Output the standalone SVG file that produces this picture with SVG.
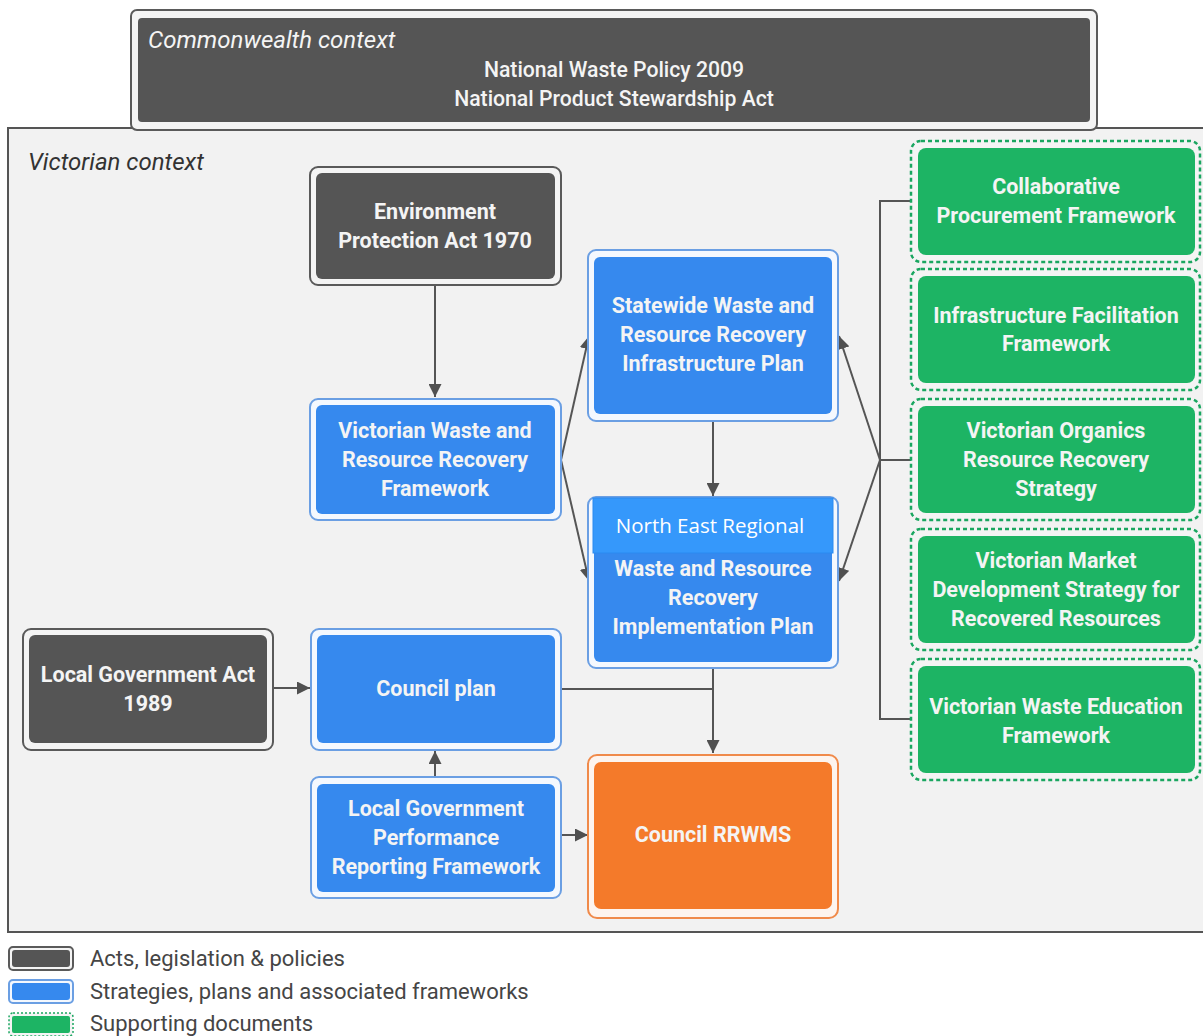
<svg xmlns="http://www.w3.org/2000/svg" width="1203" height="1036" viewBox="0 0 1203 1036">
<defs>
<marker id="ah" viewBox="0 0 10 10" refX="10" refY="5" markerWidth="13" markerHeight="13" markerUnits="userSpaceOnUse" orient="auto">
<path d="M0,0 L10,5 L0,10 z" fill="#505050"/>
</marker>
</defs>
<style>
.t{font-family:Roboto,"Liberation Sans",sans-serif;font-weight:bold;font-size:21.5px;fill:#f4f4f4;text-anchor:middle}
.ital{font-family:Roboto,"Liberation Sans",sans-serif;font-style:italic;font-size:24px}
.leg{font-family:Roboto,"Liberation Sans",sans-serif;font-size:22px;fill:#454545}
.do{fill:#f4f4f4;stroke:#5a5a5a;stroke-width:2}
.di{fill:#555555}
.bo{fill:#f4f8fe;stroke:#6b9fe3;stroke-width:2}
.bi{fill:#3689ee}
.go{fill:#f4f4f4;stroke:#1aa660;stroke-width:2.5;stroke-dasharray:4 3}
.gi{fill:#1db464}
.oo{fill:#fdf4ee;stroke:#f08a4a;stroke-width:2}
.oi{fill:#f47a2a}
.c{fill:none;stroke:#555;stroke-width:2}
.ca{fill:none;stroke:#555;stroke-width:2;marker-end:url(#ah)}
</style>
<rect width="1203" height="1036" fill="#ffffff"/>

<g id="victorian">
<rect x="8" y="128" width="1200" height="804" fill="#f2f2f2" stroke="#555" stroke-width="2"/>
<text class="ital" x="28" y="170" fill="#333">Victorian context</text>
</g>

<g id="commonwealth">
<rect x="131" y="10" width="966" height="120" rx="6" fill="#f4f4f4" stroke="#5a5a5a" stroke-width="2"/>
<rect x="138" y="18" width="952" height="104" rx="4" fill="#555555"/>
<text class="ital" x="148" y="48" fill="#f4f4f4">Commonwealth context</text>
<text class="t" x="614" y="77" style="font-weight:500;font-size:21.2px">National Waste Policy 2009</text>
<text class="t" x="614" y="106" style="font-weight:500;font-size:21.2px">National Product Stewardship Act</text>
</g>

<g id="connectors">
<line class="ca" x1="435" y1="285" x2="435" y2="397"/>
<line class="ca" x1="561" y1="460" x2="589" y2="336"/>
<line class="ca" x1="561" y1="460" x2="589" y2="581"/>
<line class="ca" x1="713" y1="421" x2="713" y2="496"/>
<polyline class="c" points="911,201 880,201 880,719 911,719"/>
<line class="c" x1="880" y1="460" x2="911" y2="460"/>
<line class="ca" x1="880" y1="460" x2="839" y2="336"/>
<line class="ca" x1="880" y1="460" x2="839" y2="581"/>
<line class="ca" x1="273" y1="688" x2="310" y2="688"/>
<line class="ca" x1="435" y1="777" x2="435" y2="751"/>
<line class="ca" x1="561" y1="835" x2="588" y2="835"/>
<polyline class="c" points="561,689 713,689"/>
<line class="ca" x1="713" y1="668" x2="713" y2="753"/>
</g>

<g id="env-act">
<rect class="do" x="310" y="167" width="251" height="118" rx="8"/>
<rect class="di" x="316" y="173" width="239" height="106" rx="6"/>
<text class="t" x="435" y="219">Environment</text>
<text class="t" x="435" y="248">Protection Act 1970</text>
</g>

<g id="vwrrf">
<rect class="bo" x="310" y="399" width="251" height="121" rx="8"/>
<rect class="bi" x="316" y="405" width="239" height="109" rx="6"/>
<text class="t" x="435" y="438">Victorian Waste and</text>
<text class="t" x="435" y="467">Resource Recovery</text>
<text class="t" x="435" y="496">Framework</text>
</g>

<g id="statewide">
<rect class="bo" x="588" y="250" width="250" height="171" rx="8"/>
<rect class="bi" x="594" y="257" width="238" height="157" rx="6"/>
<text class="t" x="713" y="313">Statewide Waste and</text>
<text class="t" x="713" y="342">Resource Recovery</text>
<text class="t" x="713" y="371">Infrastructure Plan</text>
</g>

<g id="ne-regional">
<rect class="bo" x="588" y="497" width="250" height="171" rx="8"/>
<rect class="bi" x="594" y="503" width="238" height="159" rx="6"/>
<text class="t" x="713" y="576">Waste and Resource</text>
<text class="t" x="713" y="605">Recovery</text>
<text class="t" x="713" y="634">Implementation Plan</text>
<rect x="593" y="498" width="240" height="55" fill="#3598fb" stroke="#2a8af0" stroke-width="1"/>
<text x="710" y="533" style="font-family:'Open Sans','Noto Sans',sans-serif;font-size:20.5px;fill:#ffffff;text-anchor:middle">North East Regional</text>
</g>

<g id="lg-act">
<rect class="do" x="23" y="629" width="250" height="121" rx="8"/>
<rect class="di" x="29" y="635" width="238" height="108" rx="6"/>
<text class="t" x="148" y="682">Local Government Act</text>
<text class="t" x="148" y="711">1989</text>
</g>

<g id="council-plan">
<rect class="bo" x="311" y="629" width="250" height="121" rx="8"/>
<rect class="bi" x="317" y="635" width="238" height="108" rx="6"/>
<text class="t" x="436" y="696">Council plan</text>
</g>

<g id="lgprf">
<rect class="bo" x="311" y="777" width="250" height="121" rx="8"/>
<rect class="bi" x="317" y="784" width="238" height="108" rx="6"/>
<text class="t" x="436" y="816">Local Government</text>
<text class="t" x="436" y="845">Performance</text>
<text class="t" x="436" y="874">Reporting Framework</text>
</g>

<g id="council-rrwms">
<rect class="oo" x="588" y="755" width="250" height="163" rx="9"/>
<rect class="oi" x="594" y="762" width="238" height="147" rx="7"/>
<text class="t" x="713" y="842">Council RRWMS</text>
</g>

<g id="collab">
<rect class="go" x="911" y="141" width="289" height="121" rx="10"/>
<rect class="gi" x="918" y="148" width="277" height="107" rx="8"/>
<text class="t" x="1056" y="194">Collaborative</text>
<text class="t" x="1056" y="223">Procurement Framework</text>
</g>

<g id="infra">
<rect class="go" x="911" y="269" width="289" height="121" rx="10"/>
<rect class="gi" x="918" y="276" width="277" height="107" rx="8"/>
<text class="t" x="1056" y="323">Infrastructure Facilitation</text>
<text class="t" x="1056" y="351">Framework</text>
</g>

<g id="organics">
<rect class="go" x="911" y="399" width="289" height="121" rx="10"/>
<rect class="gi" x="918" y="406" width="277" height="107" rx="8"/>
<text class="t" x="1056" y="438">Victorian Organics</text>
<text class="t" x="1056" y="467">Resource Recovery</text>
<text class="t" x="1056" y="496">Strategy</text>
</g>

<g id="market">
<rect class="go" x="911" y="529" width="289" height="121" rx="10"/>
<rect class="gi" x="918" y="536" width="277" height="107" rx="8"/>
<text class="t" x="1056" y="568">Victorian Market</text>
<text class="t" x="1056" y="597">Development Strategy for</text>
<text class="t" x="1056" y="626">Recovered Resources</text>
</g>

<g id="education">
<rect class="go" x="911" y="659" width="289" height="121" rx="10"/>
<rect class="gi" x="918" y="666" width="277" height="107" rx="8"/>
<text class="t" x="1056" y="714">Victorian Waste Education</text>
<text class="t" x="1056" y="743">Framework</text>
</g>

<g id="legend">
<rect class="do" x="9" y="947" width="64" height="23" rx="4"/>
<rect class="di" x="12" y="950" width="58" height="17" rx="3"/>
<text class="leg" x="90" y="966">Acts, legislation &amp; policies</text>
<rect class="bo" x="9" y="980" width="64" height="23" rx="4"/>
<rect class="bi" x="12" y="983" width="58" height="17" rx="3"/>
<text class="leg" x="90" y="999">Strategies, plans and associated frameworks</text>
<rect x="9" y="1013" width="64" height="23" rx="4" fill="#f4f4f4" stroke="#1aa660" stroke-width="1.5" stroke-dasharray="2 2"/>
<rect class="gi" x="12" y="1016" width="58" height="17" rx="2"/>
<text class="leg" x="90" y="1031">Supporting documents</text>
</g>
</svg>
